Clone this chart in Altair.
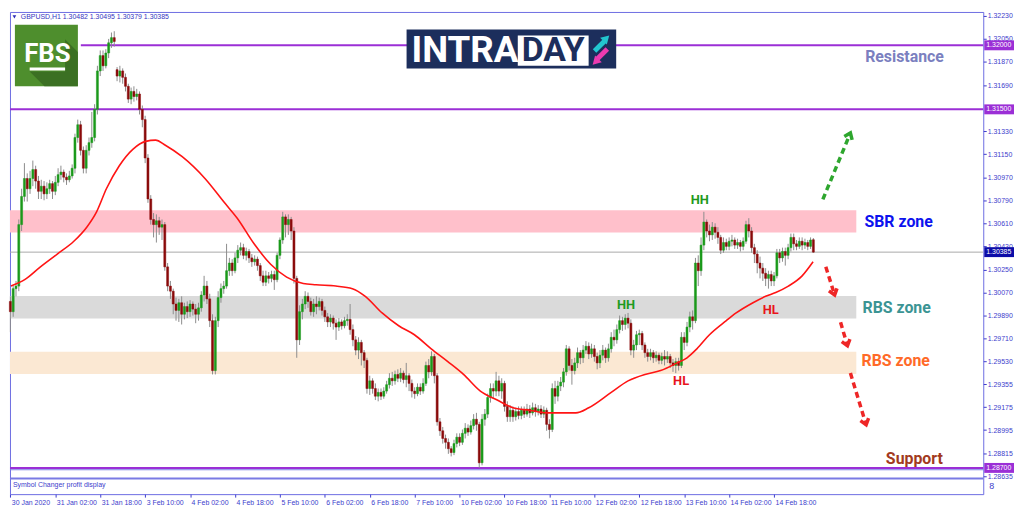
import altair as alt
import pandas as pd
import numpy as np

# ------------------------------------------------------------------ data
# GBPUSD H1 candles (287 bars)
opens = [
    1.3000, 1.2992, 1.3010, 1.3012, 1.3060, 1.3082, 1.3096, 1.3088, 1.3096, 1.3103,
    1.3094, 1.3086, 1.3090, 1.3084, 1.3088, 1.3092, 1.3086, 1.3093, 1.3099, 1.3101,
    1.3097, 1.3095, 1.3098, 1.3104, 1.3128, 1.3138, 1.3118, 1.3104, 1.3118, 1.3124,
    1.3128, 1.3150, 1.3180, 1.3192, 1.3184, 1.3194, 1.3202, 1.3206, 1.3181, 1.3176,
    1.3180, 1.3175, 1.3168, 1.3158, 1.3164, 1.3160, 1.3162, 1.3150, 1.3142, 1.3112,
    1.3080, 1.3064, 1.3060, 1.3063, 1.3058, 1.3060, 1.3027, 1.3012, 1.3008, 1.2998,
    1.2993, 1.2999, 1.2990, 1.2996, 1.2992, 1.2998, 1.2994, 1.2990, 1.2995, 1.3005,
    1.3012, 1.3002, 1.2985, 1.2946, 1.2985, 1.3003, 1.3010, 1.3012, 1.3024, 1.3030,
    1.3024, 1.3034, 1.3040, 1.3042, 1.3036, 1.3039, 1.3034, 1.3031, 1.3033, 1.3028,
    1.3020, 1.3015, 1.3020, 1.3018, 1.3021, 1.3017, 1.3036, 1.3048, 1.3066, 1.3060,
    1.3064, 1.3055, 1.3018, 1.2970, 1.2992, 1.2998, 1.3004, 1.3000, 1.2992, 1.2998,
    1.2996, 1.3000, 1.2993, 1.2988, 1.2984, 1.2987, 1.2983, 1.2980, 1.2984, 1.2981,
    1.2985, 1.2986, 1.2978, 1.2970, 1.2962, 1.2968, 1.2960, 1.2954, 1.2932, 1.2938,
    1.2932, 1.2926, 1.2929, 1.2926, 1.2930, 1.2935, 1.2940, 1.2938, 1.2943, 1.2940,
    1.2944, 1.2939, 1.2942, 1.2936, 1.2930, 1.2928, 1.2933, 1.2930, 1.2936, 1.2950,
    1.2945, 1.2957, 1.2942, 1.2906, 1.2899, 1.2893, 1.2890, 1.2885, 1.2882, 1.2889,
    1.2894, 1.2890, 1.2897, 1.2901, 1.2898, 1.2903, 1.2908, 1.2904, 1.2874, 1.2908,
    1.2912, 1.2925, 1.2932, 1.2930, 1.2938, 1.2930, 1.2936, 1.2918, 1.2910, 1.2915,
    1.2910, 1.2914, 1.2911, 1.2915, 1.2912, 1.2916, 1.2913, 1.2917, 1.2914, 1.2916,
    1.2912, 1.2915, 1.2904, 1.2900, 1.2932, 1.2926, 1.2934, 1.2937, 1.2945, 1.2963,
    1.2950, 1.2946, 1.2952, 1.2960, 1.2956, 1.2962, 1.2965, 1.2959, 1.2963, 1.2957,
    1.2952, 1.2958, 1.2962, 1.2956, 1.2963, 1.2972, 1.2970, 1.2978, 1.2985, 1.2982,
    1.2987, 1.2983, 1.2962, 1.2966, 1.2974, 1.2975, 1.2966, 1.2960, 1.2957, 1.2960,
    1.2956, 1.2958, 1.2954, 1.2957, 1.2955, 1.2957, 1.2952, 1.2950, 1.2953, 1.2950,
    1.2972, 1.2968, 1.2980, 1.2988, 1.2985, 1.3030, 1.3024, 1.3044, 1.3062, 1.3055,
    1.3052, 1.3058, 1.3054, 1.3050, 1.3040, 1.3046, 1.3043, 1.3047, 1.3048, 1.3044,
    1.3046, 1.3043, 1.3047, 1.3060, 1.3055, 1.3042, 1.3037, 1.3030, 1.3026, 1.3022,
    1.3018, 1.3021, 1.3016, 1.3020, 1.3038, 1.3034, 1.3039, 1.3036, 1.3042, 1.3050,
    1.3045, 1.3043, 1.3047, 1.3044, 1.3046, 1.3043, 1.30482,
]
highs = [
    1.3004, 1.3012, 1.3016, 1.3064, 1.3088, 1.3108, 1.3100, 1.3102, 1.3110, 1.3106,
    1.3098, 1.3095, 1.3094, 1.3093, 1.3095, 1.3094, 1.3098, 1.3104, 1.3106, 1.3103,
    1.3100, 1.3102, 1.3107, 1.3131, 1.3142, 1.3141, 1.3121, 1.3122, 1.3128, 1.3148,
    1.3154, 1.3184, 1.3196, 1.3196, 1.3197, 1.3205, 1.3210, 1.3211, 1.3183, 1.3184,
    1.3182, 1.3178, 1.3170, 1.3167, 1.3168, 1.3166, 1.3164, 1.3153, 1.3145, 1.3115,
    1.3083, 1.3069, 1.3068, 1.3066, 1.3064, 1.3062, 1.3030, 1.3016, 1.3010, 1.3003,
    1.3002, 1.3004, 1.2999, 1.3000, 1.3001, 1.3000, 1.2998, 1.2999, 1.3008, 1.3020,
    1.3016, 1.3006, 1.2990, 1.2988, 1.3008, 1.3014, 1.3016, 1.3045, 1.3034, 1.3033,
    1.3038, 1.3044, 1.3046, 1.3045, 1.3042, 1.3041, 1.3037, 1.3036, 1.3035, 1.3030,
    1.3024, 1.3024, 1.3023, 1.3024, 1.3024, 1.3038, 1.3050, 1.3070, 1.3068, 1.3068,
    1.3066, 1.3058, 1.3020, 1.2997, 1.3002, 1.3008, 1.3007, 1.3003, 1.3002, 1.3004,
    1.3003, 1.3002, 1.2996, 1.2991, 1.2990, 1.2989, 1.2986, 1.2987, 1.2986, 1.2988,
    1.2990, 1.2998, 1.2982, 1.2973, 1.2972, 1.2970, 1.2962, 1.2956, 1.2942, 1.2940,
    1.2936, 1.2932, 1.2932, 1.2933, 1.2938, 1.2944, 1.2945, 1.2946, 1.2947, 1.2948,
    1.2946, 1.2952, 1.2944, 1.2939, 1.2933, 1.2936, 1.2936, 1.2940, 1.2953, 1.2955,
    1.2961, 1.2959, 1.2944, 1.2909, 1.2902, 1.2896, 1.2893, 1.2887, 1.2892, 1.2897,
    1.2897, 1.2900, 1.2905, 1.2904, 1.2907, 1.2912, 1.2913, 1.2906, 1.2912, 1.2916,
    1.2928, 1.2936, 1.2936, 1.2945, 1.2942, 1.2940, 1.2938, 1.2922, 1.2919, 1.2918,
    1.2917, 1.2918, 1.2918, 1.2918, 1.2920, 1.2919, 1.2921, 1.2920, 1.2919, 1.2919,
    1.2918, 1.2917, 1.2908, 1.2936, 1.2938, 1.2938, 1.2941, 1.2948, 1.2966, 1.2965,
    1.2955, 1.2956, 1.2964, 1.2962, 1.2966, 1.2969, 1.2968, 1.2967, 1.2966, 1.2960,
    1.2962, 1.2966, 1.2964, 1.2967, 1.2976, 1.2978, 1.2982, 1.2989, 1.2988, 1.2990,
    1.2991, 1.2986, 1.2970, 1.2977, 1.2978, 1.2977, 1.2968, 1.2963, 1.2963, 1.2962,
    1.2961, 1.2960, 1.2960, 1.2962, 1.2961, 1.2959, 1.2955, 1.2956, 1.2956, 1.2976,
    1.2976, 1.2984, 1.2992, 1.2993, 1.3034, 1.3036, 1.3050, 1.3070, 1.3064, 1.3060,
    1.3062, 1.3061, 1.3058, 1.3052, 1.3050, 1.3049, 1.3050, 1.3052, 1.3050, 1.3049,
    1.3048, 1.3050, 1.3063, 1.3065, 1.3058, 1.3045, 1.3040, 1.3035, 1.3030, 1.3026,
    1.3024, 1.3024, 1.3023, 1.3041, 1.3041, 1.3042, 1.3042, 1.3045, 1.3053, 1.3053,
    1.3048, 1.3050, 1.3050, 1.3049, 1.3048, 1.3050, 1.30495,
]
lows = [
    1.2976, 1.2988, 1.3004, 1.3008, 1.3055, 1.3078, 1.3078, 1.3084, 1.3090, 1.3088,
    1.3080, 1.3080, 1.3079, 1.3080, 1.3084, 1.3080, 1.3083, 1.3090, 1.3095, 1.3093,
    1.3091, 1.3093, 1.3096, 1.3100, 1.3124, 1.3114, 1.3100, 1.3100, 1.3114, 1.3120,
    1.3125, 1.3146, 1.3176, 1.3180, 1.3182, 1.3190, 1.3198, 1.3199, 1.3172, 1.3171,
    1.3170, 1.3164, 1.3155, 1.3154, 1.3156, 1.3157, 1.3146, 1.3136, 1.3108, 1.3077,
    1.3060, 1.3050, 1.3046, 1.3052, 1.3048, 1.3024, 1.3008, 1.3002, 1.2990, 1.2985,
    1.2984, 1.2982, 1.2986, 1.2987, 1.2988, 1.2989, 1.2983, 1.2985, 1.2992, 1.3000,
    1.2998, 1.2980, 1.2943, 1.2943, 1.2980, 1.2999, 1.3006, 1.3010, 1.3020, 1.3020,
    1.3022, 1.3030, 1.3036, 1.3033, 1.3032, 1.3030, 1.3027, 1.3028, 1.3024, 1.3016,
    1.3012, 1.3012, 1.3014, 1.3015, 1.3009, 1.3015, 1.3033, 1.3045, 1.3050, 1.3052,
    1.3048, 1.3014, 1.2956, 1.2966, 1.2986, 1.2994, 1.2995, 1.2989, 1.2988, 1.2990,
    1.2993, 1.2989, 1.2984, 1.2980, 1.2980, 1.2978, 1.2970, 1.2977, 1.2978, 1.2979,
    1.2981, 1.2974, 1.2965, 1.2958, 1.2955, 1.2950, 1.2948, 1.2928, 1.2927, 1.2928,
    1.2923, 1.2922, 1.2923, 1.2924, 1.2928, 1.2932, 1.2934, 1.2935, 1.2937, 1.2937,
    1.2936, 1.2933, 1.2930, 1.2925, 1.2924, 1.2926, 1.2927, 1.2928, 1.2934, 1.2940,
    1.2942, 1.2936, 1.2903, 1.2895, 1.2889, 1.2885, 1.2881, 1.2879, 1.2880, 1.2886,
    1.2887, 1.2888, 1.2893, 1.2895, 1.2896, 1.2900, 1.2899, 1.2870, 1.2872, 1.2903,
    1.2909, 1.2921, 1.2924, 1.2926, 1.2926, 1.2924, 1.2914, 1.2906, 1.2906, 1.2906,
    1.2907, 1.2908, 1.2908, 1.2909, 1.2910, 1.2909, 1.2911, 1.2910, 1.2911, 1.2909,
    1.2909, 1.2899, 1.2893, 1.2898, 1.2920, 1.2922, 1.2930, 1.2933, 1.2942, 1.2946,
    1.2935, 1.2943, 1.2948, 1.2951, 1.2952, 1.2959, 1.2955, 1.2956, 1.2953, 1.2947,
    1.2948, 1.2954, 1.2952, 1.2953, 1.2960, 1.2965, 1.2967, 1.2975, 1.2977, 1.2978,
    1.2979, 1.2958, 1.2956, 1.2962, 1.2966, 1.2962, 1.2956, 1.2953, 1.2954, 1.2952,
    1.2953, 1.2951, 1.2951, 1.2950, 1.2952, 1.2948, 1.2945, 1.2944, 1.2946, 1.2948,
    1.2962, 1.2965, 1.2976, 1.2978, 1.2983, 1.3012, 1.3020, 1.3040, 1.3050, 1.3047,
    1.3048, 1.3049, 1.3045, 1.3037, 1.3038, 1.3040, 1.3040, 1.3043, 1.3041, 1.3041,
    1.3039, 1.3040, 1.3045, 1.3050, 1.3038, 1.3030, 1.3022, 1.3018, 1.3016, 1.3012,
    1.3010, 1.3012, 1.3012, 1.3018, 1.3030, 1.3031, 1.3028, 1.3033, 1.3039, 1.3040,
    1.3040, 1.3041, 1.3040, 1.3041, 1.3040, 1.3041, 1.30379,
]
closes = [
    1.2992, 1.3010, 1.3012, 1.3060, 1.3082, 1.3096, 1.3088, 1.3096, 1.3103, 1.3094,
    1.3086, 1.3090, 1.3084, 1.3088, 1.3092, 1.3086, 1.3093, 1.3099, 1.3101, 1.3097,
    1.3095, 1.3098, 1.3104, 1.3128, 1.3138, 1.3118, 1.3104, 1.3118, 1.3124, 1.3128,
    1.3150, 1.3180, 1.3192, 1.3184, 1.3194, 1.3202, 1.3206, 1.3203, 1.3176, 1.3180,
    1.3175, 1.3168, 1.3158, 1.3164, 1.3160, 1.3162, 1.3150, 1.3142, 1.3112, 1.3080,
    1.3064, 1.3060, 1.3063, 1.3058, 1.3060, 1.3027, 1.3012, 1.3008, 1.2998, 1.2993,
    1.2999, 1.2990, 1.2996, 1.2992, 1.2998, 1.2994, 1.2990, 1.2995, 1.3005, 1.3012,
    1.3002, 1.2985, 1.2946, 1.2985, 1.3003, 1.3010, 1.3012, 1.3024, 1.3030, 1.3024,
    1.3034, 1.3040, 1.3042, 1.3036, 1.3039, 1.3034, 1.3031, 1.3033, 1.3028, 1.3020,
    1.3015, 1.3020, 1.3018, 1.3021, 1.3017, 1.3036, 1.3048, 1.3066, 1.3060, 1.3064,
    1.3055, 1.3018, 1.2970, 1.2992, 1.2998, 1.3004, 1.3000, 1.2992, 1.2998, 1.2996,
    1.3000, 1.2993, 1.2988, 1.2984, 1.2987, 1.2983, 1.2980, 1.2984, 1.2981, 1.2985,
    1.2986, 1.2978, 1.2970, 1.2962, 1.2968, 1.2960, 1.2954, 1.2932, 1.2938, 1.2932,
    1.2926, 1.2929, 1.2926, 1.2930, 1.2935, 1.2940, 1.2938, 1.2943, 1.2940, 1.2944,
    1.2939, 1.2942, 1.2936, 1.2930, 1.2928, 1.2933, 1.2930, 1.2936, 1.2950, 1.2945,
    1.2957, 1.2942, 1.2906, 1.2899, 1.2893, 1.2890, 1.2885, 1.2882, 1.2889, 1.2894,
    1.2890, 1.2897, 1.2901, 1.2898, 1.2903, 1.2908, 1.2904, 1.2874, 1.2908, 1.2912,
    1.2925, 1.2932, 1.2930, 1.2938, 1.2930, 1.2936, 1.2918, 1.2910, 1.2915, 1.2910,
    1.2914, 1.2911, 1.2915, 1.2912, 1.2916, 1.2913, 1.2917, 1.2914, 1.2916, 1.2912,
    1.2915, 1.2904, 1.2900, 1.2932, 1.2926, 1.2934, 1.2937, 1.2945, 1.2963, 1.2950,
    1.2946, 1.2952, 1.2960, 1.2956, 1.2962, 1.2965, 1.2959, 1.2963, 1.2957, 1.2952,
    1.2958, 1.2962, 1.2956, 1.2963, 1.2972, 1.2970, 1.2978, 1.2985, 1.2982, 1.2987,
    1.2983, 1.2962, 1.2966, 1.2974, 1.2975, 1.2966, 1.2960, 1.2957, 1.2960, 1.2956,
    1.2958, 1.2954, 1.2957, 1.2955, 1.2957, 1.2952, 1.2950, 1.2953, 1.2950, 1.2972,
    1.2968, 1.2980, 1.2988, 1.2985, 1.3030, 1.3024, 1.3044, 1.3062, 1.3055, 1.3052,
    1.3058, 1.3054, 1.3050, 1.3040, 1.3046, 1.3043, 1.3047, 1.3048, 1.3044, 1.3046,
    1.3043, 1.3047, 1.3060, 1.3055, 1.3042, 1.3037, 1.3030, 1.3026, 1.3022, 1.3018,
    1.3021, 1.3016, 1.3020, 1.3038, 1.3034, 1.3039, 1.3036, 1.3042, 1.3050, 1.3045,
    1.3043, 1.3047, 1.3044, 1.3046, 1.3043, 1.3048, 1.30385,
]

# red moving-average line (bar index, price)
ma_bar = [0.2, 5.1, 10.7, 16.7, 22.6, 27.2, 30.7, 34.2, 38.8, 43.7, 48.2, 51.7,
          55.2, 61.2, 69.3, 76.3, 80.8, 86.8, 92.7, 98.4, 104.3, 108.9, 115.9,
          121.8, 126.4, 132.4, 138.3, 143.9, 149.9, 155.8, 161.4, 167.4, 173.4,
          179.0, 185.0, 190.9, 197.2, 201.4, 206.0, 214.0, 220.0, 226.0, 231.6,
          237.5, 241.0, 244.5, 249.0, 255.0, 258.5, 264.5, 269.0, 272.6, 277.1,
          282.0, 285.9]
ma_val = [1.3012, 1.3017, 1.3027, 1.3037, 1.3047, 1.3058, 1.3070, 1.3088, 1.3106,
          1.3119, 1.3125, 1.3126, 1.3122, 1.3113, 1.3096, 1.3077, 1.3065, 1.3045,
          1.3029, 1.3019, 1.3014, 1.3013, 1.3012, 1.3010, 1.3004, 1.2991, 1.2981,
          1.2974, 1.2963, 1.2953, 1.2943, 1.2930, 1.2923, 1.2917, 1.2915, 1.2913,
          1.2913, 1.2913, 1.2917, 1.2929, 1.2938, 1.2943, 1.2946, 1.2952, 1.2956,
          1.2963, 1.2974, 1.2985, 1.2991, 1.2999, 1.3004, 1.3007, 1.3012, 1.3020,
          1.3031]

date_labels = ["30 Jan 2020", "31 Jan 02:00", "31 Jan 18:00", "3 Feb 10:00",
               "4 Feb 02:00", "4 Feb 18:00", "5 Feb 10:00", "6 Feb 02:00",
               "6 Feb 18:00", "7 Feb 10:00", "10 Feb 02:00", "10 Feb 18:00",
               "11 Feb 10:00", "12 Feb 02:00", "12 Feb 18:00", "13 Feb 10:00",
               "14 Feb 02:00", "14 Feb 18:00"]
bars_per_label = 16

price_ticks = [1.32230, 1.32050, 1.31870, 1.31690, 1.31330, 1.31150, 1.30970,
               1.30790, 1.30610, 1.30430, 1.30250, 1.30070, 1.29890, 1.29710,
               1.29530, 1.29355, 1.29175, 1.28995, 1.28815, 1.28635]

zone_names = ["SBR zone", "RBS zone (grey)", "RBS zone (beige)"]
zone_top = [1.30713, 1.30042, 1.29608]
zone_bottom = [1.30538, 1.29867, 1.29433]

resistance_levels = [1.32000, 1.31500]
support_level = 1.28700
last_price = 1.30385
header_text = "GBPUSD,H1  1.30482 1.30495 1.30379 1.30385"

assert len(opens) == len(highs) == len(lows) == len(closes) == 287

# ------------------------------------------------------------------ layout
W, H = 981, 486
REF_W, REF_H = 989.0, 494.0           # reference plot box (px)
REF_BAR0, REF_DX = 2.4, 2.853         # reference px of bar 0 and bar spacing
REF_PPP = 13120.0                      # reference px per 1.0 price


def px(X):
    return (X - 2) * W / REF_W


def py(Y):
    return (Y - 2) * H / REF_H


def bar_at(X):
    return (X - REF_BAR0) / REF_DX


def price_at(Y):
    return 1.32230 - (Y - 6) / REF_PPP


XDOM = [bar_at(2), bar_at(991)]
YDOM = [price_at(496), price_at(2)]
xs = alt.Scale(domain=XDOM, nice=False, zero=False)
ys = alt.Scale(domain=YDOM, nice=False, zero=False)

AX = "#3d3dcc"
UP, DOWN, WICK = "#1a9a1a", "#8a0a0a", "#8c8c8c"
PURPLE = "#9b2fd6"
FONT_SMALL = "Liberation Sans"
FONT_BIG = "Roboto"
zone_colors = ["#ffc0cb", "#dadada", "#fbe8d3"]

label_js = "[" + ",".join("'%s'" % s for s in date_labels) + "]"
x_axis = alt.Axis(values=[bars_per_label * k for k in range(len(date_labels))],
                  labelExpr=label_js + "[round(datum.value / %d)]" % bars_per_label,
                  orient="bottom", title=None, grid=False, domain=False,
                  tickSize=3, tickColor=AX, labelColor=AX, labelFont=FONT_SMALL,
                  labelFontSize=7, labelAlign="left", labelBaseline="top",
                  labelPadding=1, labelOffset=1, labelOverlap=False,
                  labelFlush=False, labelBound=False)
y_axis = alt.Axis(values=price_ticks, format=".5f", orient="right", title=None,
                  grid=False, domain=False, tickSize=3, tickColor=AX,
                  labelColor=AX, labelFont=FONT_SMALL, labelFontSize=7,
                  labelPadding=1, labelOverlap=False, labelFlush=False,
                  labelBaseline="middle", labelBound=False)


def XQ(f):
    return alt.X(f, scale=xs, axis=x_axis)


def YQ(f):
    return alt.Y(f, scale=ys, axis=y_axis)


one = pd.DataFrame({"k": [0]})

# ------------------------------------------------------------------ frames
n = len(opens)
df = pd.DataFrame({"i": np.arange(n), "o": opens, "h": highs, "l": lows, "c": closes})
df["lo"] = df["i"] - 0.36
df["hi"] = df["i"] + 0.36
df["col"] = np.where(df["c"] >= df["o"], UP, DOWN)

layers = []

# zones
zdf = pd.DataFrame({"name": zone_names, "top": zone_top, "bot": zone_bottom,
                    "x0": XDOM[0], "x1": bar_at(862), "col": zone_colors})
layers.append(alt.Chart(zdf).mark_rect().encode(
    x=XQ("x0:Q"), x2="x1:Q", y=YQ("top:Q"), y2="bot:Q",
    color=alt.Color("col:N", scale=None)))

# current price line
layers.append(alt.Chart(pd.DataFrame({"p": [last_price], "x0": [XDOM[0]], "x1": [XDOM[1]]}))
              .mark_rule(color="#a8a8a8", strokeWidth=1).encode(
    x=XQ("x0:Q"), x2="x1:Q", y=YQ("p:Q")))

# resistance / support lines
ldf = pd.DataFrame({"p": resistance_levels + [support_level],
                    "x0": [bar_at(74), XDOM[0], XDOM[0]], "x1": XDOM[1]})
layers.append(alt.Chart(ldf).mark_rule(color=PURPLE, strokeWidth=2).encode(
    x=XQ("x0:Q"), x2="x1:Q", y=YQ("p:Q")))

# wicks
layers.append(alt.Chart(df).mark_rule(color=WICK, strokeWidth=1).encode(
    x=XQ("i:Q"), y=YQ("l:Q"), y2="h:Q"))
# bodies
layers.append(alt.Chart(df).mark_rect(strokeWidth=0.5).encode(
    x=XQ("lo:Q"), x2="hi:Q", y=YQ("o:Q"), y2="c:Q",
    color=alt.Color("col:N", scale=None), stroke=alt.Stroke("col:N", scale=None)))

# moving average
layers.append(alt.Chart(pd.DataFrame({"b": ma_bar, "v": ma_val})).mark_line(
    color="#ff1414", strokeWidth=1.6, interpolate="monotone").encode(
    x=XQ("b:Q"), y=YQ("v:Q")))

# sub window separators & text
for Y, sw in [(471, 1), (480, 2)]:
    layers.append(alt.Chart(one).mark_rule(color="#7a7ae4", strokeWidth=sw).encode(
        x=alt.value(0), x2=alt.value(W), y=alt.value(py(Y))))
layers.append(alt.Chart(one).mark_text(text="Symbol Changer profit display", align="left",
              baseline="middle", font=FONT_SMALL, fontSize=7, color=AX).encode(
    x=alt.value(px(5)), y=alt.value(py(487))))
layers.append(alt.Chart(one).mark_text(text="8", align="left", baseline="middle",
              font=FONT_SMALL, fontSize=9, color=AX).encode(
    x=alt.value(W + 6), y=alt.value(py(488))))

# header
layers.append(alt.Chart(one).mark_point(shape="triangle-down", size=14, filled=True,
              color="#2c2cb8", opacity=1).encode(x=alt.value(px(6.5)), y=alt.value(py(7))))
layers.append(alt.Chart(one).mark_text(text=header_text, align="left", baseline="middle",
              font=FONT_SMALL, fontSize=7, color="#3535c0").encode(
    x=alt.value(px(13)), y=alt.value(py(7))))

# price tags at the right
bdf = pd.DataFrame({"p": [1.32000, 1.31500, 1.28700, last_price],
                    "txt": ["1.32000", "1.31500", "1.28700", "1.30385"],
                    "col": [PURPLE, PURPLE, PURPLE, "#0c0ca8"]})
layers.append(alt.Chart(bdf).mark_rect(yOffset=-5, y2Offset=5).encode(
    x=alt.value(W + 1), x2=alt.value(W + 31), y=YQ("p:Q"), y2="p:Q",
    color=alt.Color("col:N", scale=None)))
layers.append(alt.Chart(bdf).mark_text(align="left", baseline="middle", font=FONT_SMALL,
              fontSize=7, color="white").encode(
    x=alt.value(W + 3), y=YQ("p:Q"), text="txt:N"))

# zone / level labels
big = [("Resistance", 911, 48.5, "#7b80bf"), ("SBR zone", 905, 217, "#0d12ee"),
       ("RBS zone", 903, 305, "#3b9494"), ("RBS zone", 902, 360, "#ff6a28"),
       ("Support", 921, 460, "#a23a1e")]
for t, X, Y, col in big:
    layers.append(alt.Chart(pd.DataFrame({"b": [bar_at(X)], "p": [price_at(Y)]}))
                  .mark_text(text=t, align="center", baseline="middle", font=FONT_BIG,
                             fontWeight="bold", fontSize=16, color=col)
                  .encode(x=XQ("b:Q"), y=YQ("p:Q")))

small = [("HH", 703, 195, "#1f9a1f"), ("HH", 628, 302, "#1f9a1f"),
         ("HL", 684, 380, "#e8141c"), ("HL", 775, 307, "#e8141c")]
for t, X, Y, col in small:
    layers.append(alt.Chart(pd.DataFrame({"b": [bar_at(X)], "p": [price_at(Y)]}))
                  .mark_text(text=t, align="center", baseline="middle", font=FONT_BIG,
                             fontWeight="bold", fontSize=13, color=col)
                  .encode(x=XQ("b:Q"), y=YQ("p:Q")))

# dashed forecast arrows: (start X, start Y, tip X, tip Y, head angle, colour)
arrows = [(828, 194, 856, 126, 202.8, "#2ea62e"),
          (831, 263, 840, 292, 342.6, "#ee2626"),
          (846, 320, 853, 344, 343.5, "#ee2626"),
          (856, 372, 872, 425, 343.1, "#ee2626")]
chev = "M -0.75 -1 L 0 0 L 0.75 -1"
for k, (X0, Y0, X1, Y1, ang, col) in enumerate(arrows):
    adf = pd.DataFrame({"b": [bar_at(X0), bar_at(X1)], "p": [price_at(Y0), price_at(Y1)]})
    layers.append(alt.Chart(adf).mark_line(color=col, strokeWidth=3.5,
                  strokeDash=[6, 4]).encode(x=XQ("b:Q"), y=YQ("p:Q")))
    hdf = pd.DataFrame({"b": [bar_at(X1)], "p": [price_at(Y1)]})
    layers.append(alt.Chart(hdf).mark_point(shape=chev, size=130, filled=False,
                  strokeWidth=3.5, color=col, angle=ang, opacity=1).encode(
        x=XQ("b:Q"), y=YQ("p:Q")))

# FBS logo (square, long diagonal shadow drawn as a pixel-unit symbol path)
layers.append(alt.Chart(one).mark_rect(color="#4e8e2d").encode(
    x=alt.value(px(7)), x2=alt.value(px(71)), y=alt.value(py(15)), y2=alt.value(py(78))))
shadow_pts = [(58, 30), (71, 43), (71, 78), (37, 78), (22, 63), (58, 63)]
shadow_path = "M " + " L ".join("%.1f %.1f" % (px(a), py(b)) for a, b in shadow_pts) + " Z"
layers.append(alt.Chart(one).mark_point(shape=shadow_path, size=4, filled=True,
              color="#3b7023", opacity=1, strokeWidth=0).encode(
    x=alt.value(0), y=alt.value(0)))
layers.append(alt.Chart(one).mark_text(text="FBS", align="center", baseline="middle",
              font=FONT_BIG, fontWeight="bold", fontSize=26, color="white").encode(
    x=alt.value(px(40)), y=alt.value(py(45))))
layers.append(alt.Chart(one).mark_rect(color="white").encode(
    x=alt.value(px(22)), x2=alt.value(px(58)), y=alt.value(py(59)), y2=alt.value(py(62))))

# INTRADAY logo
layers.append(alt.Chart(one).mark_rect(color="#1c2e5c").encode(
    x=alt.value(px(405)), x2=alt.value(px(618)), y=alt.value(py(20)), y2=alt.value(py(60))))
layers.append(alt.Chart(one).mark_rect(color="white").encode(
    x=alt.value(px(518)), x2=alt.value(px(590)), y=alt.value(py(26)), y2=alt.value(py(57))))
layers.append(alt.Chart(one).mark_text(text="INTRA", align="left", baseline="middle",
              font=FONT_BIG, fontWeight="bold", fontSize=37, color="white").encode(
    x=alt.value(px(410)), y=alt.value(py(42))))
layers.append(alt.Chart(one).mark_text(text="DAY", align="center", baseline="middle",
              font=FONT_BIG, fontWeight="bold", fontSize=34, color="#1c2e5c").encode(
    x=alt.value(px(554)), y=alt.value(py(42))))
layers.append(alt.Chart(one).mark_rule(color="#22c6cf", strokeWidth=5).encode(
    x=alt.value(px(596)), y=alt.value(py(42)), x2=alt.value(px(606)), y2=alt.value(py(32))))
layers.append(alt.Chart(one).mark_point(shape="triangle-up", size=90, filled=True,
              color="#22c6cf", angle=45, opacity=1).encode(
    x=alt.value(px(608)), y=alt.value(py(29))))
layers.append(alt.Chart(one).mark_rule(color="#ec3bb0", strokeWidth=5).encode(
    x=alt.value(px(609)), y=alt.value(py(40)), x2=alt.value(px(599)), y2=alt.value(py(50))))
layers.append(alt.Chart(one).mark_point(shape="triangle-up", size=90, filled=True,
              color="#ec3bb0", angle=225, opacity=1).encode(
    x=alt.value(px(597)), y=alt.value(py(53))))

chart = alt.layer(*layers).properties(
    width=W, height=H,
    padding={"left": 2, "top": 2, "right": 33, "bottom": 15},
    autosize=alt.AutoSizeParams(type="none"),
).configure(background="white").configure_view(stroke="#6c6ce2", strokeWidth=1)

chart.save("out.html", embed_options={"renderer": "svg", "actions": False})
